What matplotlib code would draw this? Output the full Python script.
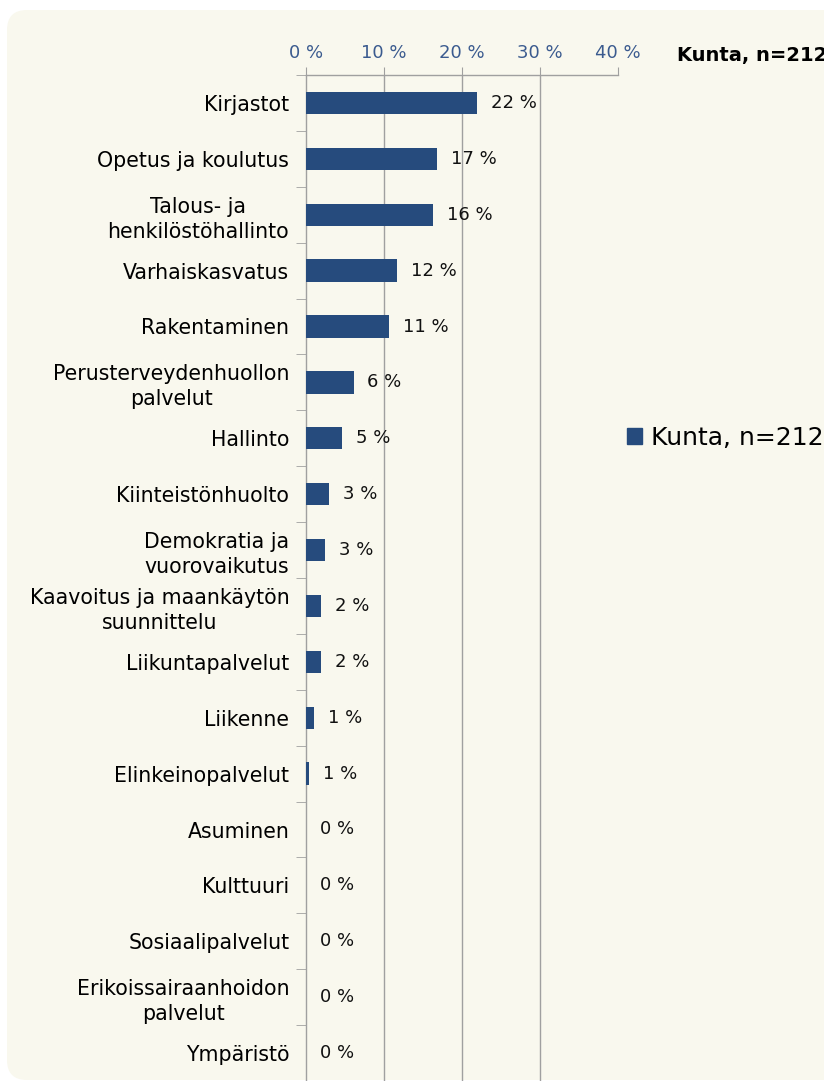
import matplotlib.pyplot as plt
import numpy as np
from matplotlib.patches import FancyBboxPatch, Patch
from matplotlib.transforms import IdentityTransform


# categories top to bottom
categories = ['Kirjastot', 'Opetus ja koulutus', 'Talous- ja\nhenkilöstöhallinto',
              'Varhaiskasvatus', 'Rakentaminen', 'Perusterveydenhuollon\npalvelut',
              'Hallinto', 'Kiinteistönhuolto', 'Demokratia ja\nvuorovaikutus',
              'Kaavoitus ja maankäytön\nsuunnittelu', 'Liikuntapalvelut', 'Liikenne',
              'Elinkeinopalvelut', 'Asuminen', 'Kulttuuri', 'Sosiaalipalvelut',
              'Erikoissairaanhoidon\npalvelut', 'Ympäristö']
values = [21.9, 16.8, 16.3, 11.7, 10.6, 6.1, 4.6, 2.9, 2.4, 1.9, 1.9, 1.0, 0.4,
          0, 0, 0, 0, 0]
value_labels = ['22 %', '17 %', '16 %', '12 %', '11 %', '6 %', '5 %', '3 %', '3 %',
                '2 %', '2 %', '1 %', '1 %', '0 %', '0 %', '0 %', '0 %', '0 %']
x_ticks = [0, 10, 20, 30, 40]
x_ticklabels = ['0 %', '10 %', '20 %', '30 %', '40 %']
series_name = 'Kunta, n=212'

bar_color = '#264B7D'
grid_color = '#A0A0A0'
panel_color = '#F9F8EE'

fig = plt.figure(figsize=(8.24, 10.81), dpi=100, facecolor='white')

# rounded background panel (pixel coords)
panel = FancyBboxPatch((7, 1), 900, 1070, boxstyle='round,pad=0,rounding_size=20',
                       transform=IdentityTransform(), facecolor=panel_color,
                       edgecolor='none', zorder=0)
fig.patches.append(panel)

ax = fig.add_axes([306 / 824, 0.0, 312 / 824, 1 - 75 / 1081])
ax.set_facecolor('none')
ax.set_zorder(2)

y = np.arange(len(categories))
ax.barh(y, values, height=0.4, color=bar_color, zorder=3)

for yi, v, lab in zip(y, values, value_labels):
    ax.annotate(lab, (v, yi), xytext=(10, 0), textcoords='offset points',
                va='center', ha='left', fontsize=13, color='#111111', zorder=4)

ax.set_xlim(0, 40)
ax.set_ylim(len(categories) - 0.5, -0.5)

ax.xaxis.tick_top()
ax.set_xticks(x_ticks)
ax.set_xticklabels(x_ticklabels, fontsize=13, color='#3B5B8F')
ax.tick_params(axis='x', direction='out', length=6, color=grid_color, pad=3)

ax.set_yticks(y)
ax.set_yticklabels(categories, fontsize=14.8)
ax.set_yticks(np.arange(-0.5, len(categories), 1), minor=True)
ax.tick_params(axis='y', which='major', length=0, pad=12)
ax.tick_params(axis='y', which='minor', length=7, color=grid_color, direction='out')
for t in ax.get_yticklabels():
    t.set_multialignment('center')
    t.set_linespacing(1.3)

for gx in [10, 20, 30]:
    ax.axvline(gx, color=grid_color, lw=1, zorder=1)

for s in ['right', 'bottom']:
    ax.spines[s].set_visible(False)
for s in ['left', 'top']:
    ax.spines[s].set_color(grid_color)
    ax.spines[s].set_linewidth(1)

fig.text(677 / 824, 1 - 55 / 1081, series_name, fontsize=14, fontweight='bold',
         va='center', ha='left', zorder=3)

leg = fig.legend(handles=[Patch(color=bar_color, label=series_name)],
                 loc='center left', bbox_to_anchor=(627 / 824, 1 - 438 / 1081),
                 frameon=False, fontsize=18, handlelength=0.6, handleheight=0.6,
                 handletextpad=0.35, borderpad=0, borderaxespad=0)
leg.set_zorder(3)

plt.savefig('out.png', dpi=100, facecolor='white')
plt.close()
